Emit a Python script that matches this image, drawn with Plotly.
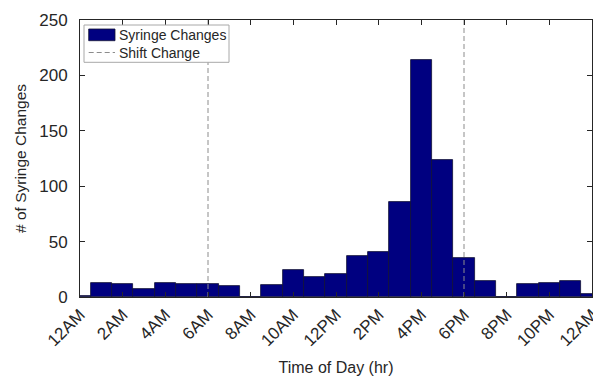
import plotly.graph_objects as go

hours = list(range(25))
changes = [1, 13, 12, 7, 13, 12, 12, 10, 0, 11, 24, 18, 21, 37, 41, 86, 214, 124, 35, 14, 0, 12, 13, 14, 3]
shift_hours = [6, 18]
tick_vals = list(range(0, 25, 2))
tick_text = ["12AM", "2AM", "4AM", "6AM", "8AM", "10AM", "12PM", "2PM", "4PM", "6PM", "8PM", "10PM", "12AM"]
y_max = 250
bar_name = "Syringe Changes"
line_name = "Shift Change"

FONT = "Arial, Liberation Sans, sans-serif"
BAR_COLOR = "#000080"
DASH_COLOR = "#8c8c8c"

# plot area in pixels
W, H = 593, 376
L, R, T, B = 80, 1, 20, 79
PW, PH = W - L - R, H - T - B


def px(xp):
    return (xp - L) / PW


def py(yp):
    return (H - B - yp) / PH


fig = go.Figure()
fig.add_trace(go.Bar(
    x=hours, y=changes, width=1, name=bar_name,
    marker=dict(color=BAR_COLOR, line=dict(color="#111133", width=0.8)),
))
sx, sy = [], []
for h in shift_hours:
    sx += [h, h, None]
    sy += [0, y_max, None]
fig.add_trace(go.Scatter(
    x=sx, y=sy, mode="lines", name=line_name,
    line=dict(color=DASH_COLOR, width=1, dash="5px,3px"),
))

# hand-drawn legend (MATLAB style)
shapes = [
    dict(type="rect", xref="paper", yref="paper", layer="above",
         x0=px(84), x1=px(229), y0=py(62.3), y1=py(25),
         line=dict(color="#a8a8a8", width=1), fillcolor="white"),
    dict(type="rect", xref="paper", yref="paper", layer="above",
         x0=px(88.7), x1=px(115), y0=py(40.7), y1=py(29),
         line=dict(color="#111133", width=0.8), fillcolor=BAR_COLOR),
    dict(type="line", xref="paper", yref="paper", layer="above",
         x0=px(88.7), x1=px(115), y0=py(52.5), y1=py(52.5),
         line=dict(color=DASH_COLOR, width=1, dash="5px,3px")),
]
annotations = [
    dict(text=bar_name, xref="paper", yref="paper", x=px(117), y=py(35),
         xanchor="left", yanchor="middle", showarrow=False,
         font=dict(size=14, color="#262626")),
    dict(text=line_name, xref="paper", yref="paper", x=px(117), y=py(52.5),
         xanchor="left", yanchor="middle", showarrow=False,
         font=dict(size=14, color="#262626")),
]

fig.update_layout(
    width=W, height=H,
    margin=dict(l=L, r=R, t=T, b=B, autoexpand=False),
    plot_bgcolor="white", paper_bgcolor="white",
    font=dict(family=FONT, color="#262626", size=17),
    bargap=0,
    showlegend=False,
    shapes=shapes,
    annotations=annotations,
    xaxis=dict(
        range=[0, 24], tickmode="array", tickvals=tick_vals, ticktext=tick_text,
        tickangle=-45, ticks="inside", ticklen=5, tickcolor="#262626",
        showline=True, linecolor="#262626", linewidth=1, mirror="ticks",
        showgrid=False, zeroline=False, ticklabeloverflow="allow",
        automargin=False,
        title=dict(text="Time of Day (hr)", font=dict(size=16), standoff=12),
    ),
    yaxis=dict(
        range=[0, y_max], tickmode="array", tickvals=[0, 50, 100, 150, 200, 250],
        ticks="inside", ticklen=5, tickcolor="#262626",
        showline=True, linecolor="#262626", linewidth=1, mirror="ticks",
        showgrid=False, zeroline=False, ticklabelstandoff=8,
        automargin=False,
        title=dict(text="# of Syringe Changes", font=dict(size=15.5), standoff=8),
    ),
)

fig.write_html("out.html")
